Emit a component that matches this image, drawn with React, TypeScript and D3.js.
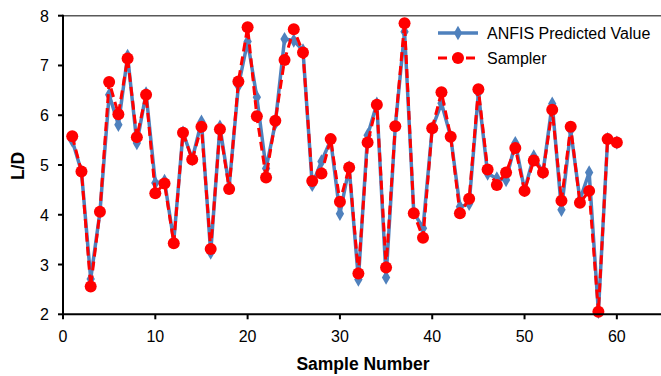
import React from "react";
import * as d3 from "d3";

const samples = d3.range(1, 61);
const anfis = [
  5.49, 4.87, 2.71, 4.05, 6.41, 5.81, 7.19, 5.44, 6.44, 4.64,
  4.68, 3.47, 5.65, 5.12, 5.87, 3.24, 5.77, 4.57, 6.59, 7.48,
  6.36, 4.93, 5.84, 7.53, 7.50, 7.30, 4.60, 5.07, 5.50, 4.02,
  4.95, 2.70, 5.60, 6.23, 2.74, 5.78, 7.68, 4.05, 3.73, 5.74,
  6.24, 5.57, 4.16, 4.22, 6.45, 4.83, 4.73, 4.70, 5.44, 4.50,
  5.17, 4.85, 6.23, 4.10, 5.70, 4.30, 4.85, 2.05, 5.52, 5.45,
];
const sampler = [
  5.58, 4.87, 2.56, 4.06, 6.67, 6.02, 7.14, 5.56, 6.41, 4.43,
  4.63, 3.43, 5.65, 5.11, 5.77, 3.31, 5.72, 4.52, 6.68, 7.77,
  5.98, 4.75, 5.89, 7.11, 7.73, 7.26, 4.68, 4.83, 5.52, 4.26,
  4.95, 2.82, 5.45, 6.21, 2.94, 5.78, 7.85, 4.03, 3.54, 5.74,
  6.46, 5.57, 4.03, 4.32, 6.52, 4.91, 4.60, 4.85, 5.34, 4.48,
  5.09, 4.85, 6.11, 4.28, 5.77, 4.24, 4.48, 2.05, 5.52, 5.45,
];
const xTicks = [0, 10, 20, 30, 40, 50, 60];
const yTicks = [2, 3, 4, 5, 6, 7, 8];
const seriesNames = ["ANFIS Predicted Value", "Sampler"];

const W = 661;
const H = 376;
const left = 63;
const right = 663;
const top = 15.7;
const bottom = 314.3;
const font = "Arial, 'Liberation Sans', sans-serif";

export default function App() {
  const x = d3.scaleLinear().domain([0, 65]).range([left, right]);
  const y = d3.scaleLinear().domain([2, 8]).range([bottom, top]);
  const line = d3
    .line<number>()
    .x((_, i) => x(samples[i]))
    .y((d) => y(d));
  const diamond = d3.symbol().type(d3.symbolDiamond).size(60)()!;
  const blue = "#4F81BD";
  const red = "#FF0000";

  return (
    <svg
      width={W}
      height={H}
      style={{ position: "absolute", left: 0, top: 0, background: "#fff" }}
      fontFamily={font}
    >
      <rect x={0} y={0} width={W} height={H} fill="#fff" />
      <line x1={left} x2={W} y1={top} y2={top} stroke="#595959" strokeWidth={1.5} />
      <path d={line(anfis)!} fill="none" stroke={blue} strokeWidth={3.5} strokeLinejoin="round" />
      {anfis.map((v, i) => (
        <path key={"a" + i} d={diamond} transform={`translate(${x(samples[i])},${y(v)})`} fill={blue} />
      ))}
      <path d={line(sampler)!} fill="none" stroke={red} strokeWidth={3} strokeDasharray="9,5" />
      {sampler.map((v, i) => (
        <circle key={"s" + i} cx={x(samples[i])} cy={y(v)} r={6} fill={red} />
      ))}
      <line x1={left} x2={W} y1={bottom} y2={bottom} stroke="#000" strokeWidth={2} />
      <line x1={left} x2={left} y1={top - 1} y2={bottom + 1} stroke="#000" strokeWidth={2} />
      {xTicks.map((t) => (
        <g key={"xt" + t}>
          <line x1={x(t)} x2={x(t)} y1={bottom} y2={bottom + 5} stroke="#000" strokeWidth={2} />
          <text x={x(t)} y={342} textAnchor="middle" fontSize={16} fill="#000">
            {t}
          </text>
        </g>
      ))}
      {yTicks.map((t) => (
        <g key={"yt" + t}>
          <line x1={left - 5} x2={left} y1={y(t)} y2={y(t)} stroke="#000" strokeWidth={2} />
          <text x={49} y={y(t) + 6} textAnchor="end" fontSize={16} fill="#000">
            {t}
          </text>
        </g>
      ))}
      <text x={363} y={370} textAnchor="middle" fontSize={17.5} fontWeight="bold" fill="#000">
        Sample Number
      </text>
      <text
        transform={`translate(24,166) rotate(-90)`}
        textAnchor="middle"
        fontSize={17.5}
        fontWeight="bold"
        fill="#000"
      >
        L/D
      </text>
      <g>
        <line x1={438} x2={478} y1={33} y2={33} stroke={blue} strokeWidth={3.5} />
        <path d={diamond} transform="translate(458,33)" fill={blue} />
        <text x={487} y={39} fontSize={16} fill="#000">
          {seriesNames[0]}
        </text>
        <line x1={438} x2={478} y1={58} y2={58} stroke={red} strokeWidth={3} strokeDasharray="9,5" />
        <circle cx={458} cy={58} r={6} fill={red} />
        <text x={487} y={64} fontSize={16} fill="#000">
          {seriesNames[1]}
        </text>
      </g>
    </svg>
  );
}
